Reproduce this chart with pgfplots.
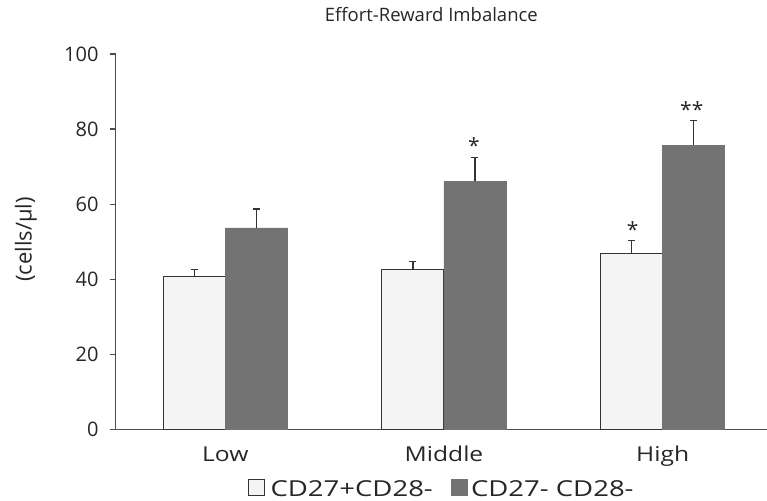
\documentclass[border=0pt]{standalone}
\usepackage{fontspec}
\setmainfont{Open Sans}
\newfontfamily\widefont[FakeStretch=1.2]{Open Sans}
\newfontfamily\widerfont[FakeStretch=1.25]{Open Sans}
\usepackage{pgfplots}
\pgfplotsset{compat=1.18}
\definecolor{lightbar}{HTML}{F4F4F4}
\definecolor{darkbar}{HTML}{737373}
\definecolor{axgray}{HTML}{4D4D4D}
\definecolor{edge}{HTML}{333333}

% x positions are the category index shifted by half a bar width
\pgfplotstableread{
x y e
-0.14175 40.6 2.0
0.85825 42.7 2.1
1.85825 46.9 3.4
}\lighttab
\pgfplotstableread{
x y e
0.14175 53.7 5.0
1.14175 66.1 6.3
2.14175 75.7 6.6
}\darktab

\begin{document}
\begin{tikzpicture}[font=\fontsize{22bp}{26bp}\selectfont]
\path[use as bounding box] (-115.7bp,-71.7bp) rectangle (651.3bp,429.3bp);
\begin{axis}[
  at={(0,0)}, anchor=south west,
  scale only axis, width=651.3bp, height=375.3bp,
  xmin=-0.501, xmax=2.477, ymin=0, ymax=100,
  axis x line=bottom, axis y line=left,
  axis line style={draw=axgray, line width=1.3bp, -},
  xtick={0,1,2}, xticklabels={Low,Middle,High},
  x tick style={draw=none},
  ytick={0,20,...,100},
  y tick style={draw=axgray, line width=1.2bp},
  tick align=outside, major tick length=6bp,
  /pgf/number format/assume math mode=true,
  xticklabel style={anchor=base, yshift=-26bp, text=black!85,
    font=\widefont\fontsize{20.5bp}{24bp}\selectfont},
  yticklabel style={anchor=east, inner sep=0pt, xshift=-11bp, text=black!85,
    font=\fontsize{20bp}{24bp}\selectfont},
  title={Effort-Reward Imbalance},
  title style={at={(0.5,1)}, anchor=base, yshift=27bp, xshift=-10bp, text=black!85,
    font=\fontsize{18.5bp}{22bp}\selectfont},
  legend style={at={(0.5,0)}, anchor=center, yshift=-59bp, draw=none, fill=none,
    inner sep=0pt, nodes={inner sep=1bp, text depth=0pt},
    font=\widerfont\fontsize{22bp}{26bp}\selectfont,
    legend columns=2, text=black!85,
    /tikz/every even column/.append style={column sep=17bp}},
  legend cell align=left,
  clip=false,
]
\addplot[ybar, bar width=0.2835, bar shift=0, fill=lightbar, draw=edge, line width=1bp,
  error bars/.cd, y dir=plus, y explicit,
  error bar style={draw=edge, line width=1.2bp},
  error mark options={rotate=90, draw=edge, line width=1.2bp, mark size=3.5bp},
  /pgfplots/.cd, legend image code/.code={\draw[fill=lightbar, draw=edge, line width=0.8bp] (0bp,-6.5bp) rectangle (15.5bp,9bp); \path[draw=none, fill=none] (0bp,0bp) -- (21bp,0bp);}]
  table[x=x, y=y, y error=e] {\lighttab};
\addlegendentry{CD27+CD28-}
\addplot[ybar, bar width=0.2835, bar shift=0, fill=darkbar, draw=darkbar, line width=0.5bp,
  error bars/.cd, y dir=plus, y explicit,
  error bar style={draw=edge, line width=1.2bp},
  error mark options={rotate=90, draw=edge, line width=1.2bp, mark size=3.5bp},
  /pgfplots/.cd, legend image code/.code={\fill[darkbar] (0bp,-6.5bp) rectangle (16bp,9bp); \path[draw=none, fill=none] (0bp,0bp) -- (19bp,0bp);}]
  table[x=x, y=y, y error=e] {\darktab};
\addlegendentry{CD27- CD28-}
\node[anchor=base, text=black!85, font=\fontsize{21bp}{24bp}\selectfont] at (axis cs:1.137,73.6) {*};
\node[anchor=base, text=black!85, font=\fontsize{21bp}{24bp}\selectfont] at (axis cs:1.863,51.2) {*};
\node[anchor=base, text=black!85, font=\fontsize{21bp}{24bp}\selectfont] at (axis cs:2.133,83.0) {**};
\end{axis}
\node[rotate=90, anchor=center, text=black!85, font=\fontsize{22bp}{26bp}\selectfont] at (-89.7bp,190bp) {(cells/µl)};
\end{tikzpicture}
\end{document}
